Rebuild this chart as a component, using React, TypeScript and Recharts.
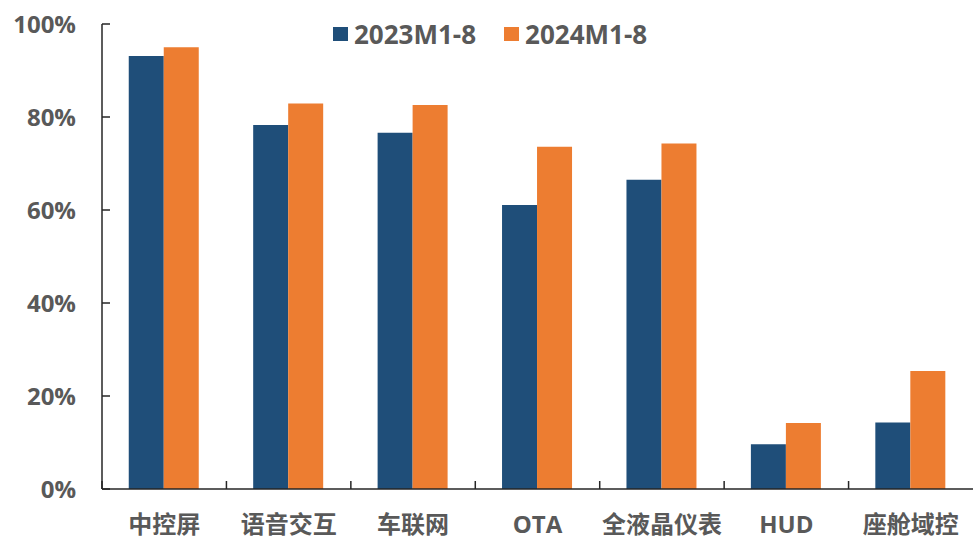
import { Bar, BarChart, Legend, XAxis, YAxis } from "recharts";

const categories = ["中控屏", "语音交互", "车联网", "OTA", "全液晶仪表", "HUD", "座舱域控"];
const values2023 = [93.1, 78.3, 76.6, 61.1, 66.5, 9.6, 14.3];
const values2024 = [95.0, 82.9, 82.6, 73.6, 74.3, 14.2, 25.4];
const yTicks = [0, 20, 40, 60, 80, 100];

const seriesNames = ["2023M1-8", "2024M1-8"];
const seriesColors = ["#1F4E79", "#ED7D31"];

const data = categories.map((name, i) => ({
  name,
  v2023: values2023[i],
  v2024: values2024[i],
}));

const FONT = "'Open Sans', 'Noto Sans CJK SC', sans-serif";
const TEXT_COLOR = "#595959";
const AXIS_COLOR = "#262626";

const CHART_W = 973;
const CHART_H = 541;
const Y_AXIS_W = 102;
const STEP = (CHART_W - Y_AXIS_W) / categories.length;

const CategoryTick = (props: any) => {
  const { x, y, payload } = props;
  const bx = x - STEP / 2;
  return (
    <g>
      <line x1={bx} y1={y} x2={bx} y2={y - 8} stroke={AXIS_COLOR} strokeWidth={1.5} />
      <text
        x={x}
        y={y + 44}
        textAnchor="middle"
        fill={TEXT_COLOR}
        fontSize={24}
        fontWeight="bold"
        fontFamily={FONT}
      >
        {payload.value}
      </text>
    </g>
  );
};

const LegendContent = () => (
  <div style={{ display: "flex", alignItems: "center", fontFamily: FONT }}>
    {seriesNames.map((name, i) => (
      <div key={name} style={{ display: "flex", alignItems: "center", marginRight: i === 0 ? 28 : 0 }}>
        <span
          style={{
            display: "inline-block",
            width: 15,
            height: 14,
            background: seriesColors[i],
            marginRight: 6,
          }}
        />
        <span style={{ color: TEXT_COLOR, fontSize: 26, fontWeight: "bold", lineHeight: "30px" }}>{name}</span>
      </div>
    ))}
  </div>
);

const App = () => {
  return (
    <div style={{ position: "absolute", left: 0, top: 0 }}>
      <BarChart
        width={CHART_W}
        height={CHART_H}
        data={data}
        margin={{ top: 24, right: 0, bottom: 0, left: 0 }}
        barCategoryGap="21.5%"
        barGap={0}
      >
        <XAxis
          dataKey="name"
          height={52}
          interval={0}
          axisLine={{ stroke: AXIS_COLOR, strokeWidth: 1.5 }}
          tickLine={false}
          tickSize={0}
          tickMargin={0}
          tick={<CategoryTick />}
        />
        <YAxis
          width={Y_AXIS_W}
          domain={[0, 100]}
          ticks={yTicks}
          interval={0}
          axisLine={{ stroke: AXIS_COLOR, strokeWidth: 1.5 }}
          tickLine={{ stroke: AXIS_COLOR, strokeWidth: 1.5 }}
          tickSize={-8}
          tickMargin={34}
          tickFormatter={(v) => `${v}%`}
          tick={{ fill: TEXT_COLOR, fontSize: 24, fontWeight: "bold", fontFamily: FONT }}
        />
        <Legend
          layout="vertical"
          align="center"
          verticalAlign="middle"
          content={<LegendContent />}
          wrapperStyle={{ position: "absolute", left: 333, top: 19, width: "auto" }}
        />
        <Bar dataKey="v2023" name={seriesNames[0]} fill={seriesColors[0]} isAnimationActive={false} />
        <Bar dataKey="v2024" name={seriesNames[1]} fill={seriesColors[1]} isAnimationActive={false} />
      </BarChart>
    </div>
  );
};

export default App;
